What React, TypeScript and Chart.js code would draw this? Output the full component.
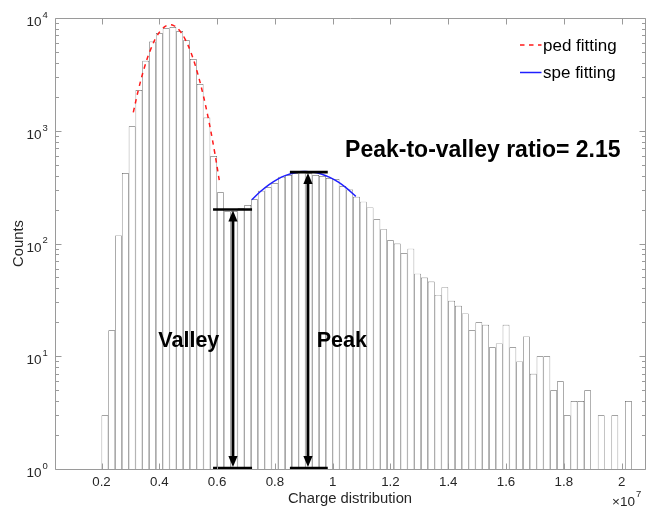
import React, { useEffect, useRef } from "react";
import { Chart, registerables } from "chart.js";

Chart.register(...registerables);

// ---------- data (x in units of 1e7) ----------
const BIN_START = 0.2;
const BIN_WIDTH = 0.02353;
const counts = [
  3, 17, 118, 422, 1095, 2300, 4180, 6190, 7360, 8120,
  8320, 7670, 6350, 4330, 2600, 1312, 597, 285, 193, 194,
  205, 219, 247, 294, 315, 342, 391, 405, 420, 425,
  420, 405, 397, 381, 373, 324, 301, 260, 235, 209,
  164, 134, 107, 100, 82, 90, 54, 50, 46, 35,
  41, 31, 28, 24, 17, 20, 19, 12, 13, 19,
  12, 9, 15, 7, 10, 10, 5, 6, 3, 4,
  4, 5, 1, 3, 1, 3, 1, 4,
];

const pedX = [0.31, 0.33, 0.35, 0.37, 0.39, 0.41, 0.43, 0.45, 0.47, 0.49, 0.51, 0.53, 0.55, 0.57, 0.59, 0.61];
const pedY = [1457, 2442, 3748, 5269, 6785, 8002, 8645, 8555, 7753, 6437, 4895, 3409, 2175, 1271, 680, 333];

const speX = [0.72, 0.75, 0.78, 0.81, 0.84, 0.87, 0.9, 0.93, 0.96, 0.99, 1.02, 1.05, 1.08];
const speY = [244, 289, 333, 373, 404, 425, 434, 430, 414, 386, 350, 307, 262];

const xTicks = [0.2, 0.4, 0.6, 0.8, 1.0, 1.2, 1.4, 1.6, 1.8, 2.0];
const yTicks = [1, 10, 100, 1000, 10000];
const yExponents = ["0", "1", "2", "3", "4"];

const X_MIN = 0.039;
const X_MAX = 2.081;

// annotation values
const valleyX = 0.655;
const valleyCount = 200;
const valleySpan = [0.586, 0.721];
const peakX = 0.9145;
const peakCount = 430;
const peakSpan = [0.852, 0.983];
const baseCount = 1.02;
const ratioText = "Peak-to-valley ratio= 2.15";
const ratioPos = { x: 1.043, y: 589 };
const valleyPos = { x: 0.3966, y: 12.0 };
const peakPos = { x: 0.9449, y: 12.0 };

const legendItems = [
  { label: "ped fitting", color: "#ff1a1a", dash: [4.5, 4.5] },
  { label: "spe fitting", color: "#1f1fff", dash: [] as number[] },
];

const FONT = "'Liberation Sans', Arial, Helvetica, sans-serif";
const AXIS_COLOR = "#9a9a9a";
const TEXT_COLOR = "#262626";

const overlay = {
  id: "overlay",
  afterDatasetsDraw(chart: any) {
    const { ctx } = chart;
    const xs = chart.scales.x;
    const ys = chart.scales.y;
    ctx.save();
    const marker = (xv: number, span: number[], topCount: number) => {
      const px = xs.getPixelForValue(xv);
      const top = ys.getPixelForValue(topCount);
      const bot = ys.getPixelForValue(baseCount);
      const x0 = xs.getPixelForValue(span[0]);
      const x1 = xs.getPixelForValue(span[1]);
      ctx.strokeStyle = "#000";
      ctx.fillStyle = "#000";
      ctx.lineWidth = 2.6;
      ctx.beginPath();
      ctx.moveTo(x0, top);
      ctx.lineTo(x1, top);
      ctx.moveTo(x0, bot);
      ctx.lineTo(x1, bot);
      ctx.stroke();
      ctx.lineWidth = 2.8;
      ctx.beginPath();
      ctx.moveTo(px, top + 8);
      ctx.lineTo(px, bot - 8);
      ctx.stroke();
      ctx.beginPath();
      ctx.moveTo(px, top + 1);
      ctx.lineTo(px - 4.6, top + 12);
      ctx.lineTo(px + 4.6, top + 12);
      ctx.closePath();
      ctx.fill();
      ctx.beginPath();
      ctx.moveTo(px, bot - 1);
      ctx.lineTo(px - 4.6, bot - 12);
      ctx.lineTo(px + 4.6, bot - 12);
      ctx.closePath();
      ctx.fill();
    };
    marker(valleyX, valleySpan, valleyCount);
    marker(peakX, peakSpan, peakCount);

    ctx.fillStyle = "#000";
    ctx.textAlign = "left";
    ctx.textBaseline = "alphabetic";
    ctx.font = `bold 21.5px ${FONT}`;
    ctx.fillText("Valley", xs.getPixelForValue(valleyPos.x), ys.getPixelForValue(valleyPos.y));
    ctx.fillText("Peak", xs.getPixelForValue(peakPos.x), ys.getPixelForValue(peakPos.y));
    ctx.font = `bold 23px ${FONT}`;
    ctx.fillText(ratioText, xs.getPixelForValue(ratioPos.x), ys.getPixelForValue(ratioPos.y));
    ctx.restore();
  },
  afterDraw(chart: any) {
    const { ctx, chartArea: a } = chart;
    const xs = chart.scales.x;
    const ys = chart.scales.y;
    ctx.save();
    const L = Math.round(a.left) + 0.5;
    const R = Math.round(a.right) + 0.5;
    const T = Math.round(a.top) + 0.5;
    const B = Math.round(a.bottom) + 0.5;
    ctx.strokeStyle = AXIS_COLOR;
    ctx.lineWidth = 1;
    ctx.beginPath();
    ctx.rect(L, T, R - L, B - T);
    xTicks.forEach((v) => {
      const px = Math.round(xs.getPixelForValue(v)) + 0.5;
      ctx.moveTo(px, B);
      ctx.lineTo(px, B - 6);
      ctx.moveTo(px, T);
      ctx.lineTo(px, T + 6);
    });
    yTicks.forEach((v, i) => {
      const py = Math.round(ys.getPixelForValue(v)) + 0.5;
      ctx.moveTo(L, py);
      ctx.lineTo(L + 6, py);
      ctx.moveTo(R, py);
      ctx.lineTo(R - 6, py);
      if (i < yTicks.length - 1) {
        for (let m = 2; m <= 9; m++) {
          const pm = Math.round(ys.getPixelForValue(v * m)) + 0.5;
          ctx.moveTo(L, pm);
          ctx.lineTo(L + 3.5, pm);
          ctx.moveTo(R, pm);
          ctx.lineTo(R - 3.5, pm);
        }
      }
    });
    ctx.stroke();

    // y tick labels with superscript exponents
    ctx.fillStyle = TEXT_COLOR;
    ctx.textBaseline = "alphabetic";
    yTicks.forEach((v, i) => {
      const py = ys.getPixelForValue(v);
      ctx.font = `13.5px ${FONT}`;
      ctx.textAlign = "right";
      ctx.fillText("10", a.left - 13.5, py + 8.2);
      ctx.font = `9.5px ${FONT}`;
      ctx.textAlign = "left";
      ctx.fillText(yExponents[i], a.left - 12.5, py - 0.2);
    });

    // x multiplier
    ctx.font = `13.5px ${FONT}`;
    ctx.textAlign = "right";
    ctx.fillText("\u00d710", a.right - 10, 506);
    ctx.font = `9.5px ${FONT}`;
    ctx.textAlign = "left";
    ctx.fillText("7", a.right - 9, 497);

    // legend
    const lx0 = a.right - 125;
    const lx1 = a.right - 103.5;
    legendItems.forEach((it, i) => {
      const ly = 45 + i * 27.5;
      ctx.strokeStyle = it.color;
      ctx.lineWidth = 1.5;
      ctx.setLineDash(it.dash);
      ctx.beginPath();
      ctx.moveTo(lx0, ly);
      ctx.lineTo(lx1, ly);
      ctx.stroke();
      ctx.setLineDash([]);
      ctx.fillStyle = "#000";
      ctx.font = `17px ${FONT}`;
      ctx.textAlign = "left";
      ctx.fillText(it.label, lx1 + 1.5, ly + 5.8);
    });
    ctx.restore();
  },
};

export default function App() {
  const ref = useRef<HTMLCanvasElement>(null);
  useEffect(() => {
    const canvas = ref.current;
    if (!canvas) return;
    const barData = counts.map((c, i) => ({ x: BIN_START + (i + 0.5) * BIN_WIDTH, y: c }));
    const chart = new Chart(canvas, {
      type: "bar",
      data: {
        datasets: [
          {
            type: "line",
            label: legendItems[0].label,
            data: pedX.map((x, i) => ({ x, y: pedY[i] })),
            borderColor: legendItems[0].color,
            borderWidth: 1.5,
            borderDash: legendItems[0].dash,
            pointRadius: 0,
            tension: 0.4,
            fill: false,
            order: 0,
          },
          {
            type: "line",
            label: legendItems[1].label,
            data: speX.map((x, i) => ({ x, y: speY[i] })),
            borderColor: legendItems[1].color,
            borderWidth: 1.5,
            pointRadius: 0,
            tension: 0.4,
            fill: false,
            order: 0,
          },
          {
            type: "bar",
            label: "histogram",
            data: barData,
            backgroundColor: "#ffffff",
            borderColor: "rgba(40,40,40,0.75)",
            borderWidth: 0.7,
            barPercentage: 1,
            categoryPercentage: 1,
            inflateAmount: 0,
            order: 1,
          },
        ],
      } as any,
      options: {
        responsive: false,
        animation: false,
        events: [],
        layout: { padding: { left: 0, right: 4, top: 18, bottom: 0 } },
        plugins: { legend: { display: false }, tooltip: { enabled: false } },
        scales: {
          x: {
            type: "linear",
            min: X_MIN,
            max: X_MAX,
            offset: false,
            grid: { display: false, drawTicks: false },
            border: { display: false },
            afterBuildTicks: (s: any) => {
              s.ticks = xTicks.map((v) => ({ value: v }));
            },
            afterFit: (s: any) => {
              s.height = 39;
            },
            ticks: {
              autoSkip: false,
              maxRotation: 0,
              padding: 5.8,
              color: TEXT_COLOR,
              font: { family: FONT, size: 13.3 },
              callback: (v: any) => String(Math.round(Number(v) * 10) / 10),
            },
            title: {
              display: true,
              text: "Charge distribution",
              color: TEXT_COLOR,
              font: { family: FONT, size: 14.8 },
              padding: { top: 0, bottom: 0.5 },
            },
          },
          y: {
            type: "logarithmic",
            min: 1,
            max: 10000,
            beginAtZero: false,
            grid: { display: false, drawTicks: false },
            border: { display: false },
            ticks: { display: false },
            afterFit: (s: any) => {
              s.width = 55;
            },
            title: {
              display: true,
              text: "Counts",
              color: TEXT_COLOR,
              font: { family: FONT, size: 14.8 },
              padding: { top: 10.5, bottom: 0 },
            },
          },
        },
      } as any,
      plugins: [overlay],
    });
    return () => chart.destroy();
  }, []);
  return (
    <div style={{ position: "fixed", left: 0, top: 0, width: 649, height: 508, background: "#fff" }}>
      <canvas ref={ref} width={649} height={508} style={{ display: "block" }} />
    </div>
  );
}
